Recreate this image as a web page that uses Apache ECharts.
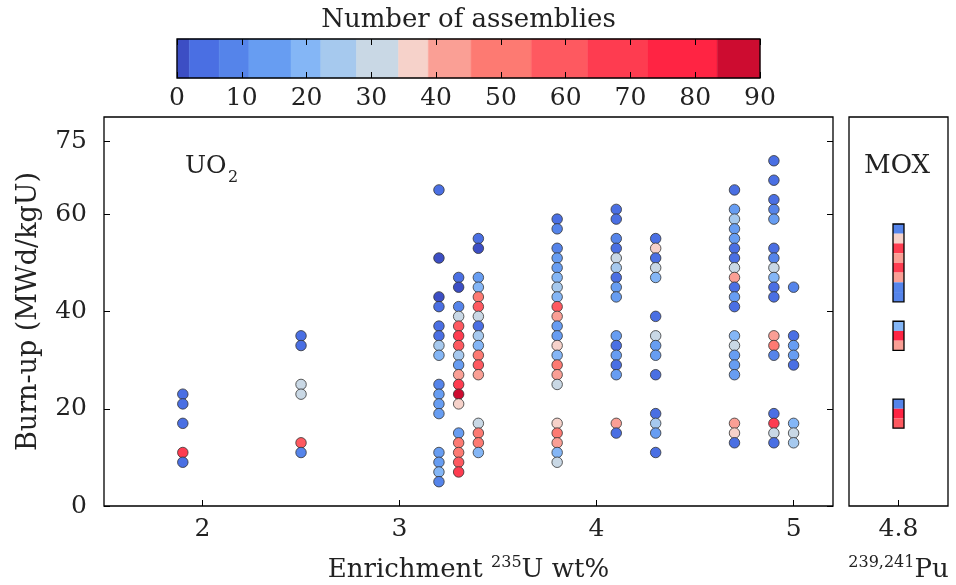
<!DOCTYPE html>
<html><head><meta charset="utf-8">
<script src="https://cdn.jsdelivr.net/npm/echarts@6/dist/echarts.min.js"></script>
<style>html,body{margin:0;padding:0;background:#fff}#c{width:956px;height:585px}</style>
</head><body><div id="c"></div>
<script>
// ---------- data ----------
const enrichment = [1.9, 2.5, 3.2, 3.3, 3.4, 3.8, 4.1, 4.3, 4.7, 4.9, 5.0];
const burnup = [
  [23,21,17,11,9],
  [35,33,25,23,13,11],
  [65,51,43,41,37,35,33,31,25,23,21,19,11,9,7,5],
  [47,45,41,39,37,35,33,31,29,27,25,23,21,15,13,11,9,7],
  [55,53,47,45,43,41,39,37,35,33,31,29,27,17,15,13,11],
  [59,57,53,51,49,47,45,43,41,39,37,35,33,31,29,27,25,17,15,13,11,9],
  [61,59,55,53,51,49,47,45,43,35,33,31,29,27,17,15],
  [55,53,51,49,47,39,35,33,31,27,19,17,15,11],
  [65,61,59,57,55,53,51,49,47,45,43,41,35,33,31,29,27,17,15,13],
  [71,67,63,61,59,53,51,49,47,45,43,35,33,31,19,17,15,13],
  [45,35,33,31,29,17,15,13]
];
const assemblies = [
  [4,4,4,66,4],
  [4,4,31,31,58,9],
  [4,1,1,4,4,4,25,20,9,14,14,14,14,14,20,9],
  [4,1,9,31,58,68,58,25,14,42,68,87,36,14,50,50,55,68],
  [4,1,14,20,50,58,31,4,25,20,50,58,42,31,50,50,20],
  [4,9,9,14,14,20,25,20,58,42,14,14,36,20,50,42,31,36,50,42,20,31],
  [4,4,9,4,31,25,4,14,14,14,4,14,4,14,42,4],
  [4,36,4,31,20,4,31,14,14,4,4,25,14,4],
  [4,14,25,14,14,4,4,31,42,4,14,4,20,31,14,14,14,42,36,4],
  [4,4,4,9,14,4,9,31,20,4,4,42,50,9,4,68,31,4],
  [9,4,14,14,4,20,31,25]
];
const moxEnrichment = 4.8;
const moxBurnup = [57,55,53,51,49,47,45,43,37,35,33,21,19,17];
const moxAssemblies = [9,36,68,42,68,42,9,9,20,78,42,9,78,58];
const moxBinWidth = 2;
const yTicks = [0,20,40,60,75];
const xTicks = [2,3,4,5];
const moxTicks = [4.8];
const colorTicks = [0,10,20,30,40,50,60,70,80,90];
const colorBounds = [0,1.9,6.5,11.1,17.6,22.2,27.7,34.2,38.8,45.4,54.7,63.4,72.7,83.4,90];
const colorPalette = ['#3c4ec4','#4a6fe3','#5584ea','#679df2','#84b6f6','#a6c9ee','#c9d8e5',
                      '#f6d2ca','#fa9f95','#fd7a72','#fe5960','#fe3c50','#ff2443','#cd0c30'];

// ---------- build ----------
const FONT = 'DejaVu Serif';
const TXT = '#222';
const scatterData = [];
enrichment.forEach((e, i) => burnup[i].forEach((b, j) => scatterData.push([e, b, assemblies[i][j]])));
const moxData = moxBurnup.map((b, i) => [moxEnrichment, b, moxAssemblies[i]]);
const sortedB = moxBurnup.slice().sort((a, b) => b - a);
const moxGroups = [];
sortedB.forEach(b => {
  const g = moxGroups[moxGroups.length - 1];
  if (g && Math.abs(g.low - b) === moxBinWidth) g.low = b; else moxGroups.push({high: b, low: b});
});
const moxGroupData = moxGroups.map(g => [moxEnrichment, g.low - moxBinWidth / 2, g.high + moxBinWidth / 2]);
const cbData = colorPalette.map((c, i) => [colorBounds[i], colorBounds[i + 1], i]);
const pieces = colorPalette.map((c, i) => {
  const p = {gte: colorBounds[i], color: c};
  if (i === colorPalette.length - 1) p.lte = colorBounds[i + 1]; else p.lt = colorBounds[i + 1];
  return p;
});

const tickStyle = {inside: true, length: 6, lineStyle: {color: '#000', width: 1}};
const labelStyle = {fontFamily: FONT, fontSize: 25, color: TXT};
const supName = {fontFamily: FONT, fontSize: 26, color: TXT, lineHeight: 30,
  rich: {sup: {fontFamily: FONT, fontSize: 16, color: TXT, verticalAlign: 'top', lineHeight: 30}}};

const chart = echarts.init(document.getElementById('c'), null, {renderer: 'canvas'});
chart.setOption({
  animation: false,
  backgroundColor: '#fff',
  grid: [
    {left: 104, top: 117, width: 729, height: 389, show: true, borderColor: '#000', borderWidth: 1.3, outerBoundsMode: 'none'},
    {left: 849, top: 117, width: 99, height: 389, show: true, borderColor: '#000', borderWidth: 1.3, outerBoundsMode: 'none'},
    {left: 177, top: 39, width: 583, height: 39, show: false, outerBoundsMode: 'none'}
  ],
  visualMap: {
    type: 'piecewise', show: false, dimension: 2, seriesIndex: [0, 1], pieces: pieces
  },
  xAxis: [
    {gridIndex: 0, type: 'value', min: 1.5, max: 5.2, splitLine: {show: false}, axisLine: {show: false},
     axisTick: Object.assign({customValues: xTicks}, tickStyle),
     axisLabel: Object.assign({customValues: xTicks, margin: 11}, labelStyle),
     name: 'Enrichment {sup|235}U wt%', nameLocation: 'middle', nameGap: 49, nameTextStyle: supName},
    {gridIndex: 1, type: 'value', min: 4.3, max: 5.3, splitLine: {show: false}, axisLine: {show: false},
     axisTick: Object.assign({customValues: moxTicks}, tickStyle),
     axisLabel: Object.assign({customValues: moxTicks, margin: 11, formatter: v => v.toFixed(1)}, labelStyle),
     name: '{sup|239,241}Pu', nameLocation: 'middle', nameGap: 49, nameTextStyle: supName},
    {gridIndex: 2, type: 'value', min: 0, max: 90, interval: 10, position: 'bottom', z: 10,
     splitLine: {show: false}, axisLine: {show: false},
     axisTick: tickStyle, axisLabel: Object.assign({margin: 8}, labelStyle)},
    {gridIndex: 2, type: 'value', min: 0, max: 90, interval: 10, position: 'top', z: 10,
     splitLine: {show: false}, axisLine: {show: false},
     axisTick: tickStyle, axisLabel: {show: false},
     name: 'Number of assemblies', nameLocation: 'middle', nameGap: 6,
     nameTextStyle: {fontFamily: FONT, fontSize: 26, color: TXT}}
  ],
  yAxis: [
    {gridIndex: 0, type: 'value', min: 0, max: 80, splitLine: {show: false}, axisLine: {show: false},
     axisTick: Object.assign({customValues: yTicks}, tickStyle),
     axisLabel: Object.assign({customValues: yTicks, margin: 17}, labelStyle),
     name: 'Burn-up (MWd/kgU)', nameLocation: 'middle', nameGap: 62,
     nameTextStyle: {fontFamily: FONT, fontSize: 27, color: TXT}},
    {gridIndex: 0, type: 'value', min: 0, max: 80, position: 'right', splitLine: {show: false}, axisLine: {show: false},
     axisTick: Object.assign({customValues: yTicks}, tickStyle), axisLabel: {show: false}},
    {gridIndex: 1, type: 'value', min: 0, max: 80, show: false},
    {gridIndex: 2, type: 'value', min: 0, max: 1, show: false}
  ],
  graphic: [
    {type: 'text', x: 185, y: 166, style: {text: 'UO', fontFamily: FONT, fontSize: 25, fill: TXT, verticalAlign: 'middle'}},
    {type: 'text', x: 228, y: 178, style: {text: '2', fontFamily: FONT, fontSize: 16, fill: TXT, verticalAlign: 'middle'}},
    {type: 'text', x: 897, y: 166, style: {text: 'MOX', fontFamily: FONT, fontSize: 26, fill: TXT, align: 'center', verticalAlign: 'middle'}}
  ],
  series: [
    {type: 'scatter', xAxisIndex: 0, yAxisIndex: 0, data: scatterData, symbol: 'circle', symbolSize: 10.5,
     itemStyle: {borderColor: '#333', borderWidth: 0.8, opacity: 1}, silent: true},
    {type: 'custom', xAxisIndex: 1, yAxisIndex: 2, data: moxData, silent: true,
     renderItem: (params, api) => {
       const x = api.value(0), y = api.value(1);
       const p0 = api.coord([x, y + moxBinWidth / 2]);
       const p1 = api.coord([x, y - moxBinWidth / 2]);
       return {type: 'rect', shape: {x: p0[0] - 5.5, y: p0[1], width: 11, height: p1[1] - p0[1]},
               style: {fill: api.visual('color'), stroke: null}};
     }},
    {type: 'custom', xAxisIndex: 1, yAxisIndex: 2, data: moxGroupData, silent: true, z: 5,
     renderItem: (params, api) => {
       const p0 = api.coord([api.value(0), api.value(2)]);
       const p1 = api.coord([api.value(0), api.value(1)]);
       return {type: 'rect', shape: {x: p0[0] - 5.5, y: p0[1], width: 11, height: p1[1] - p0[1]},
               style: {fill: 'none', stroke: '#000', lineWidth: 1.3}};
     }},
    {type: 'custom', xAxisIndex: 2, yAxisIndex: 3, data: cbData, silent: true,
     renderItem: (params, api) => {
       const p0 = api.coord([api.value(0), 1]);
       const p1 = api.coord([api.value(1), 0]);
       return {type: 'rect', shape: {x: p0[0], y: p0[1], width: p1[0] - p0[0], height: p1[1] - p0[1]},
               style: {fill: colorPalette[api.value(2)], stroke: colorPalette[api.value(2)], lineWidth: 0.5}};
     }},
    {type: 'custom', xAxisIndex: 2, yAxisIndex: 3, data: [[0, 90]], silent: true, z: 5,
     renderItem: (params, api) => {
       const p0 = api.coord([api.value(0), 1]);
       const p1 = api.coord([api.value(1), 0]);
       return {type: 'rect', shape: {x: p0[0], y: p0[1], width: p1[0] - p0[0], height: p1[1] - p0[1]},
               style: {fill: 'none', stroke: '#000', lineWidth: 1.3}};
     }}
  ]
});
</script>
</body></html>
